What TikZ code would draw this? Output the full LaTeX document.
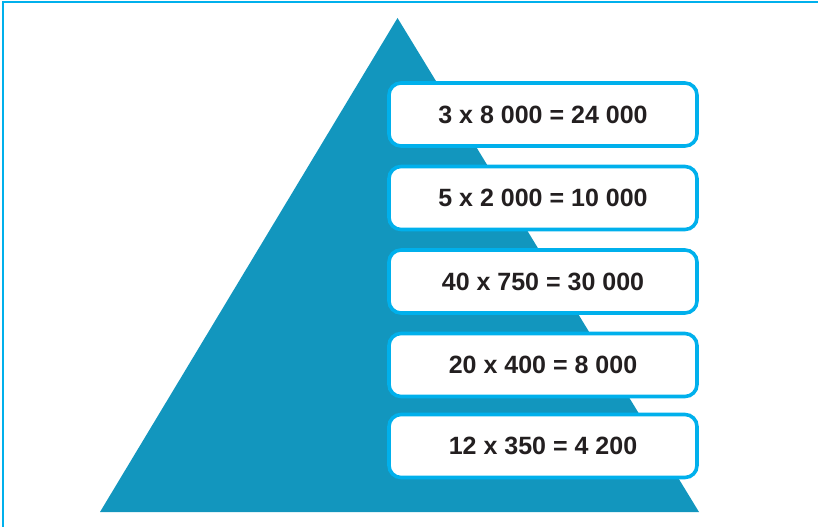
\documentclass[tikz,border=0pt]{standalone}
\usepackage{fontspec}
\setmainfont{Liberation Sans}
\definecolor{pyramid}{RGB}{18,150,190}
\definecolor{rim}{RGB}{0,176,236}
\definecolor{ink}{RGB}{35,31,32}
\begin{document}
\begin{tikzpicture}[
   x=1pt,y=-1pt,
   calc/.style={draw=rim,fill=white,line width=3.6pt,rounded corners=12pt,
     minimum width=308pt,minimum height=63pt,inner sep=0pt,
     font=\fontsize{25}{30}\selectfont\bfseries,text=ink},
   frame/.style={draw=rim,line width=2pt}
 ]
  \useasboundingbox (0,0) rectangle (818,527);
  \draw[frame] (818,2) -- (3,2) -- (3,527);
  \fill[pyramid] (397.5,18) -- (699,512) -- (100,512) -- cycle;
  \node[calc] (r1) at (543,114.5) {3 x 8 000 = 24 000};
  \node[calc] (r2) at (543,198) {5 x 2 000 = 10 000};
  \node[calc] (r3) at (543,281.5) {40 x 750 = 30 000};
  \node[calc] (r4) at (543,365) {20 x 400 = 8 000};
  \node[calc] (r5) at (543,446) {12 x 350 = 4 200};
\end{tikzpicture}
\end{document}
